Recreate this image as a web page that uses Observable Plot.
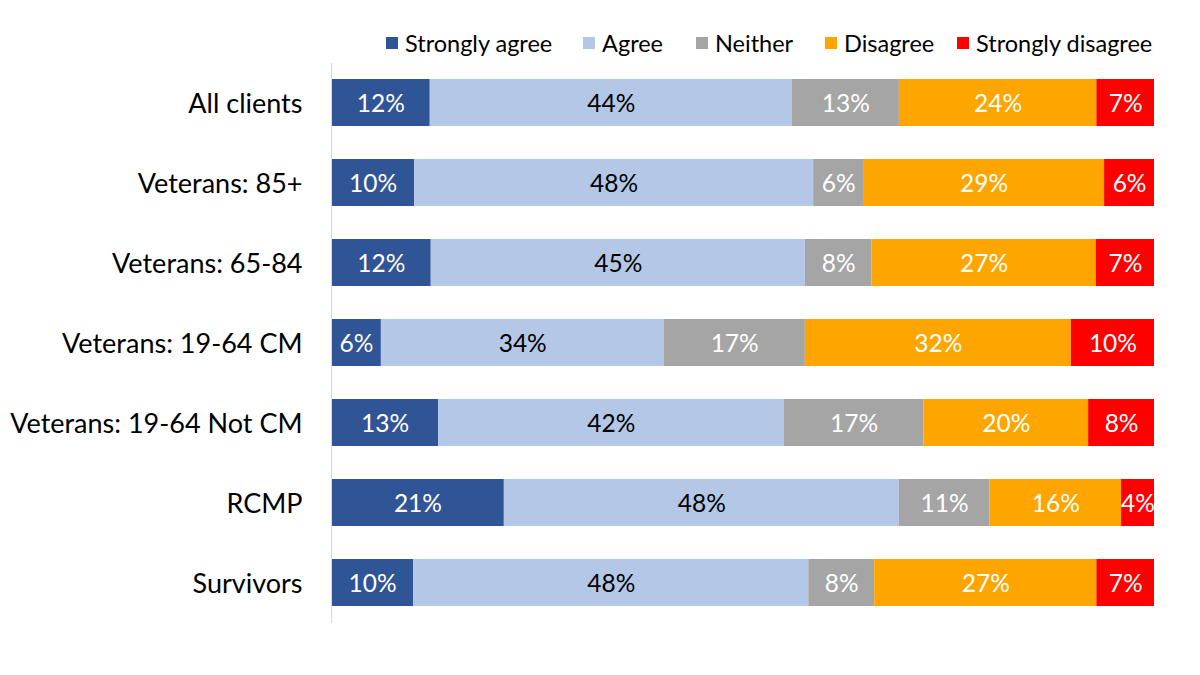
<!DOCTYPE html>
<html>
<head>
<meta charset="utf-8">
<script src="https://cdn.jsdelivr.net/npm/d3@7"></script>
<script src="https://cdn.jsdelivr.net/npm/@observablehq/plot@0.6"></script>
<style>
  body { margin: 0; background: #fff; font-family: Lato, "Open Sans", sans-serif; }
  #legend { position: relative; height: 60px; width: 1200px; }
  .item { position: absolute; top: 28px; display: flex; align-items: center; font-size: 23.5px; line-height: 30px; color: #000; white-space: nowrap; }
  .sw { width: 12px; height: 12px; margin-right: 7px; }
</style>
</head>
<body>
<div id="legend"></div>
<div id="chart"></div>
<script>
const groups = ["All clients", "Veterans: 85+", "Veterans: 65-84", "Veterans: 19-64 CM", "Veterans: 19-64 Not CM", "RCMP", "Survivors"];
const categories = ["Strongly agree", "Agree", "Neither", "Disagree", "Strongly disagree"];
const colors = ["#2F5597", "#B4C7E7", "#A5A5A5", "#FFA500", "#FF0000"];
const labelColors = ["#fff", "#000", "#fff", "#fff", "#fff"];
const stronglyAgree    = [12, 10, 12, 6, 13, 21, 10];
const agree            = [44, 48, 45, 34, 42, 48, 48];
const neither          = [13, 6, 8, 17, 17, 11, 8];
const disagree         = [24, 29, 27, 32, 20, 16, 27];
const stronglyDisagree = [7, 6, 7, 10, 8, 4, 7];
const legendX = [386, 583, 696, 825, 957];

const series = [stronglyAgree, agree, neither, disagree, stronglyDisagree];
const data = [];
groups.forEach((g, i) => {
  categories.forEach((c, j) => {
    data.push({group: g, cat: c, value: series[j][i], labelColor: labelColors[j]});
  });
});

const legend = document.getElementById("legend");
categories.forEach((c, j) => {
  const d = document.createElement("div");
  d.className = "item";
  d.style.left = legendX[j] + "px";
  d.innerHTML = `<span class="sw" style="background:${colors[j]}"></span><span>${c}</span>`;
  legend.appendChild(d);
});

const chart = Plot.plot({
  width: 1200,
  height: 615,
  marginTop: 3,
  marginBottom: 52,
  marginLeft: 331,
  marginRight: 46,
  style: { fontFamily: "Lato, 'Open Sans', sans-serif", background: "#fff" },
  x: { domain: [0, 1], axis: null },
  y: { domain: groups, paddingInner: 0.41, paddingOuter: 0.205, label: null },
  color: { domain: categories, range: colors },
  marks: [
    Plot.barX(data, Plot.stackX({x: "value", y: "group", z: "cat", fill: "cat", order: categories, offset: "normalize"})),
    Plot.textX(data, Plot.stackX({x: "value", y: "group", z: "cat", order: categories, offset: "normalize",
      text: d => d.value + "%", fill: "labelColor", fontSize: 24.5, dy: 1.5})),
    Plot.ruleX([0], {stroke: "#d9d9d9", strokeWidth: 1}),
    Plot.axisY({tickSize: 0, tickPadding: 29, fontSize: 27, fill: "#000", label: null, dy: 1.5})
  ]
});
document.getElementById("chart").appendChild(chart);
</script>
</body>
</html>
